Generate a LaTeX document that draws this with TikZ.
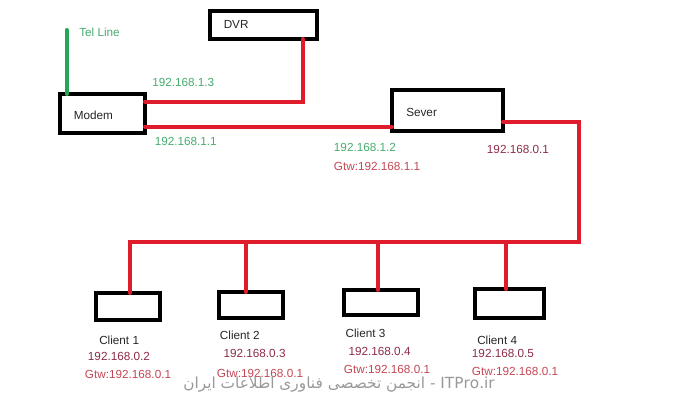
\documentclass[tikz,border=0pt]{standalone}
\usepackage{fontspec}
\setmainfont{Liberation Sans}
\newfontfamily\arabicfont[Script=Arabic]{DejaVu Sans}
\TeXXeTstate=1
\usepackage{xcolor}
\usepackage{tikz}

\definecolor{wirered}{RGB}{222,28,44}
\definecolor{wiregreen}{RGB}{34,168,84}
\definecolor{ipgreen}{RGB}{70,172,110}
\definecolor{ipmaroon}{RGB}{140,44,70}
\definecolor{gtwred}{RGB}{196,70,84}

\tikzset{
  devbox/.style={draw=black,line width=3pt,fill=white,inner sep=0pt,outer sep=0pt},
  redwire/.style={draw=wirered,line width=3pt,line cap=round,line join=miter},
  greenwire/.style={draw=wiregreen,line width=3pt,line cap=round},
  lbl/.style={anchor=west,inner sep=0pt,font=\fontsize{8.8}{10}\selectfont,text=black!85},
  ipg/.style={lbl,text=ipgreen},
  ipm/.style={lbl,text=ipmaroon},
  gtw/.style={lbl,text=gtwred}
}

\begin{document}
\begin{tikzpicture}[x=0.75pt,y=0.75pt,yscale=-1,xscale=1]
    \useasboundingbox (0,0) rectangle (678,405);

    % boxes
    \node[devbox,minimum width=63.4pt,minimum height=29.25pt] (modem) at (102.75,113.5) {};
    \node[devbox,minimum width=80.25pt,minimum height=21pt] (dvr) at (263.5,25) {};
    \node[devbox,minimum width=83.25pt,minimum height=30.75pt] (sever) at (447.5,110.5) {};
    \node[devbox,minimum width=48pt,minimum height=20.25pt] (client1) at (128,306.5) {};
    \node[devbox,minimum width=48pt,minimum height=19.5pt] (client2) at (251,305) {};
    \node[devbox,minimum width=55.5pt,minimum height=18.75pt] (client3) at (381,302.5) {};
    \node[devbox,minimum width=51.75pt,minimum height=21.75pt] (client4) at (509.5,303.5) {};

    % bends and taps
    \coordinate (telend) at (66.5,30);
    \coordinate (dvrtap) at (302.5,101.5);
    \coordinate (lan) at (300,126.5);
    \coordinate (wan) at (579,122);
    \coordinate (busright) at (579,242);
    \coordinate (tap1) at (130,242);
    \coordinate (tap2) at (246,242);
    \coordinate (tap3) at (378,242);
    \coordinate (tap4) at (506,242);

    % wires
    \draw[greenwire] (telend) -- (telend |- modem.north);
    \draw[redwire] (modem.east |- dvrtap) -- (dvrtap) -- (dvr.south -| dvrtap);
    \draw[redwire] (modem.east |- lan) -- (sever.west |- lan);
    \draw[redwire] (sever.east |- wan) -- (wan) -- (busright) -- (tap1) -- (tap1 |- client1.north);
    \draw[redwire] (tap2) -- (tap2 |- client2.north);
    \draw[redwire] (tap3) -- (tap3 |- client3.north);
    \draw[redwire] (tap4) -- (tap4 |- client4.north);

    % labels
    \node[ipg] (telname) at (79,32) {Tel Line};
    \node[lbl] (dvrname) at (223.5,24.5) {DVR};
    \node[ipg] (dvrip) at (152,82) {192.168.1.3};
    \node[lbl] (modemname) at (73.5,115) {Modem};
    \node[ipg] (modemip) at (154.5,141) {192.168.1.1};
    \node[lbl] (severname) at (406,112) {Sever};
    \node[ipg] (severip) at (333.7,147.7) {192.168.1.2};
    \node[gtw] (severgtw) at (333.7,166) {Gtw:192.168.1.1};
    \node[ipm] (severlan) at (486.7,149.3) {192.168.0.1};

    \node[lbl] (name1) at (99,340) {Client 1};
    \node[ipm] (ip1) at (87.7,356) {192.168.0.2};
    \node[gtw] (gtw1) at (84.7,374.3) {Gtw:192.168.0.1};
    \node[lbl] (name2) at (219.7,335) {Client 2};
    \node[ipm] (ip2) at (223.3,353.7) {192.168.0.3};
    \node[gtw] (gtw2) at (216.7,373.3) {Gtw:192.168.0.1};
    \node[lbl] (name3) at (345.3,333.3) {Client 3};
    \node[ipm] (ip3) at (348.3,351.7) {192.168.0.4};
    \node[gtw] (gtw3) at (343.7,369) {Gtw:192.168.0.1};
    \node[lbl] (name4) at (477,340.3) {Client 4};
    \node[ipm] (ip4) at (471.7,353.3) {192.168.0.5};
    \node[gtw] (gtw4) at (471.7,371.7) {Gtw:192.168.0.1};

    % watermark
    \node[anchor=center,inner sep=0pt,text=black!40,font=\fontsize{11.5}{13}\selectfont] (mark) at (339,385)
      {\arabicfont\beginR انجمن تخصصی فناوری اطلاعات ایران\endR{} - ITPro.ir};
\end{tikzpicture}
\end{document}
